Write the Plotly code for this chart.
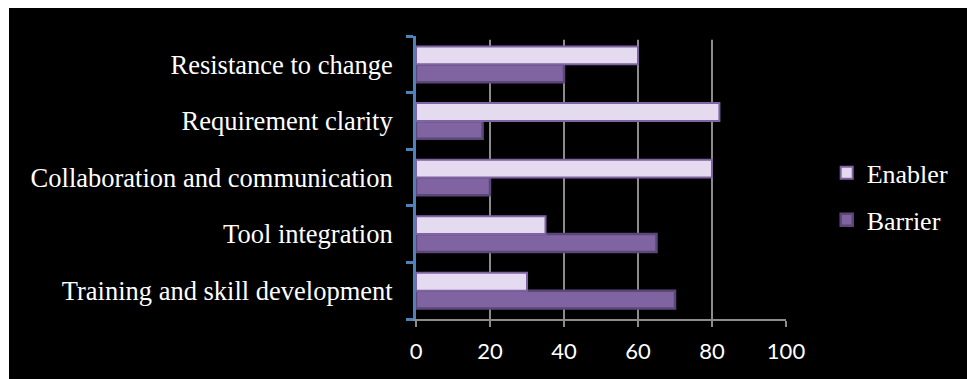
import plotly.graph_objects as go

# Categories listed bottom to top (Plotly category axes start at the bottom)
categories = [
    "Training and skill development",
    "Tool integration",
    "Collaboration and communication",
    "Requirement clarity",
    "Resistance to change",
]
enabler = [30, 35, 80, 82, 60]
barrier = [70, 65, 20, 18, 40]
x_ticks = [0, 20, 40, 60, 80, 100]
grid_values = [20, 40, 60, 80]

fig = go.Figure()
# Barrier first so that it sits below Enabler within each group
fig.add_trace(go.Bar(
    y=categories, x=barrier, name="Barrier", orientation="h",
    legendgroup="barrier", legendrank=2,
    marker=dict(color="#8064A2", line=dict(color="#5C4779", width=2.5)),
))
fig.add_trace(go.Bar(
    y=categories, x=enabler, name="Enabler", orientation="h",
    legendgroup="enabler", legendrank=1,
    marker=dict(color="#E4DBF1", line=dict(color="#8064A2", width=2)),
))

# black panel with a thin white strip on the top and left
shapes = [dict(type="rect", xref="paper", yref="paper",
               x0=-1.100, x1=1.50, y0=-0.25, y1=1.099,
               fillcolor="black", line=dict(width=0), layer="below")]
for g in grid_values:
    shapes.append(dict(type="line", xref="x", yref="paper", x0=g, x1=g,
                       y0=0, y1=0.987, line=dict(color="#8C8C8C", width=2),
                       layer="below"))

fig.update_layout(
    width=967, height=379,
    margin=dict(l=416, r=181, t=36, b=60, autoexpand=False),
    paper_bgcolor="white",
    plot_bgcolor="rgba(0,0,0,0)",
    barmode="group", bargap=0.37, bargroupgap=0,
    shapes=shapes,
    showlegend=True,
    legend=dict(
        traceorder="grouped",
        x=1.11, xanchor="left", y=0.433, yanchor="middle",
        font=dict(family="Liberation Serif", size=26, color="white"),
        bgcolor="rgba(0,0,0,0)",
        tracegroupgap=10,
    ),
    xaxis=dict(
        range=[0, 100], tickvals=x_ticks, showgrid=False, zeroline=False,
        showline=True, linecolor="#8C8C8C", linewidth=2,
        ticks="outside", ticklen=6, tickwidth=2, tickcolor="#8C8C8C",
        tickfont=dict(family="Lato", size=22, color="white"),
        ticklabelstandoff=6,
    ),
    yaxis=dict(
        type="category", showgrid=False, zeroline=False,
        showline=True, linecolor="#4F81BD", linewidth=3,
        ticks="outside", tickson="boundaries", ticklen=7, tickwidth=3,
        tickcolor="#4F81BD",
        tickfont=dict(family="Liberation Serif", size=26.5, color="white"),
        ticklabelstandoff=15,
    ),
)

fig.write_html("out.html")
